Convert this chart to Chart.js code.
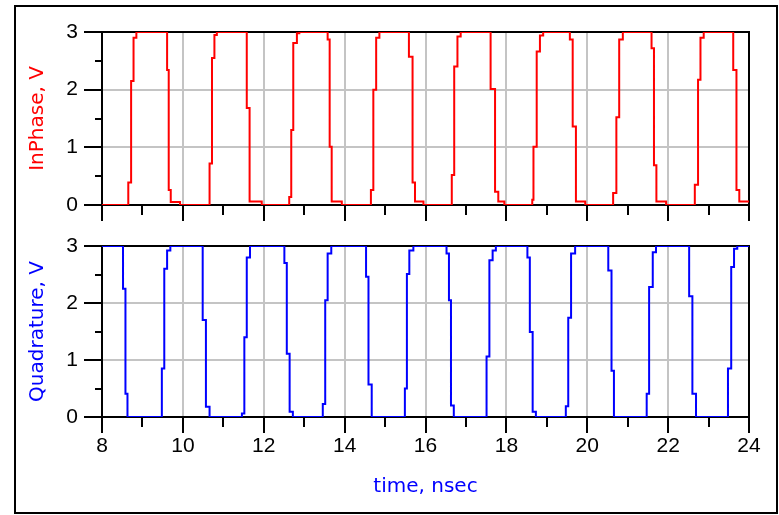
<!DOCTYPE html>
<html>
<head>
<meta charset="utf-8">
<script src="https://cdn.jsdelivr.net/npm/chart.js@4.4.1/dist/chart.umd.min.js"></script>
<style>
    html, body { margin: 0; padding: 0; background: #fff; }
    #frame {
        position: absolute; left: 14px; top: 5px;
        width: 760px; height: 505px;
        border: 2px solid #000;
    }
    canvas { position: absolute; left: 0; top: 0; }
</style>
</head>
<body>
<div id="frame"></div>
<canvas id="inphase-chart" width="779" height="515"></canvas>
<canvas id="quad-chart" width="779" height="515"></canvas>
<script>
// Tiempos (nsec) y tensiones (V); el valor cambia en cada tiempo
const inphaseTime = [
    8.00,
    8.65, 8.72, 8.78, 8.85,
    9.61, 9.65, 9.70, 9.93,
    10.66, 10.72, 10.78, 10.84,
    11.58, 11.65, 11.95,
    12.63, 12.68, 12.73, 12.82, 12.88,
    13.58, 13.63, 13.68, 13.93,
    14.65, 14.71, 14.78, 14.86,
    15.59, 15.68, 15.74, 15.95,
    16.65, 16.71, 16.79, 16.87,
    17.61, 17.72, 17.80, 17.95,
    18.64, 18.67, 18.75, 18.83, 18.91,
    19.57, 19.64, 19.72, 19.95,
    20.64, 20.72, 20.79, 20.88,
    21.59, 21.65, 21.71, 21.95,
    22.66, 22.74, 22.80, 22.88,
    23.61, 23.69, 23.76, 24.00
];
const inphaseVolt = [
    0,
    0.39, 2.15, 2.90, 3,
    2.34, 0.26, 0.05, 0,
    0.72, 2.55, 2.95, 3,
    1.68, 0.06, 0,
    0.14, 1.30, 2.81, 2.98, 3,
    2.87, 1.01, 0.06, 0,
    0.26, 2.00, 2.90, 3,
    2.57, 0.39, 0.06, 0,
    0.52, 2.40, 2.92, 3,
    2.01, 0.23, 0.06, 0,
    0.09, 1.01, 2.66, 2.94, 3,
    2.87, 1.36, 0.06, 0,
    0.21, 1.52, 2.87, 3,
    2.72, 0.69, 0.06, 0,
    0.35, 2.17, 2.90, 3,
    2.34, 0.26, 0.06, 0.06
];
const quadTime = [
    8.00,
    8.52, 8.58, 8.63,
    9.48, 9.54, 9.61, 9.69,
    10.49, 10.57, 10.66,
    11.46, 11.52, 11.58, 11.66,
    12.51, 12.57, 12.64, 12.72,
    13.46, 13.52, 13.58, 13.67,
    14.53, 14.59, 14.67,
    15.49, 15.54, 15.60, 15.70,
    16.52, 16.58, 16.63, 16.70,
    17.51, 17.58, 17.66, 17.74,
    18.52, 18.58, 18.65, 18.73,
    19.47, 19.53, 19.60, 19.70,
    20.52, 20.60, 20.66,
    21.47, 21.53, 21.62, 21.70,
    22.52, 22.60, 22.69,
    23.48, 23.56, 23.63, 23.71,
    24.00
];
const quadVolt = [
    3,
    2.25, 0.41, 0,
    0.85, 2.60, 2.92, 3,
    1.70, 0.18, 0,
    0.06, 1.40, 2.80, 3,
    2.70, 1.11, 0.09, 0,
    0.23, 2.05, 2.87, 3,
    2.46, 0.57, 0,
    0.50, 2.51, 2.92, 3,
    2.87, 2.05, 0.20, 0,
    1.06, 2.75, 2.92, 3,
    2.80, 1.49, 0.09, 0,
    0.19, 1.74, 2.87, 3,
    2.57, 0.81, 0,
    0.41, 2.28, 2.89, 3,
    2.12, 0.41, 0,
    0.85, 2.63, 2.95, 3,
    3
];

const xMin = 8, xMax = 24, xStep = 2;
const yMin = 0, yMax = 3, yStep = 1;
const xMinorTicks = [9, 11, 13, 15, 17, 19, 21, 23];
const yMinorTicks = [0.5, 1.5, 2.5];

const tickFont = { family: 'Liberation Sans, Arial, sans-serif', size: 21 };
const titleFont = { family: 'DejaVu Sans, sans-serif', size: 20 };

// Marco superior/derecho y marcas menores de los ejes
const framePlugin = {
    id: 'frame',
    beforeDatasetsDraw(chart) {
        const { ctx, chartArea: a } = chart;
        ctx.save();
        ctx.strokeStyle = '#000';
        ctx.lineWidth = 2;
        ctx.beginPath();
        ctx.moveTo(a.left, a.top);
        ctx.lineTo(a.right, a.top);
        ctx.lineTo(a.right, a.bottom);
        ctx.stroke();
        ctx.restore();
    },
    afterDraw(chart) {
        const { ctx, chartArea: a, scales } = chart;
        ctx.save();
        ctx.strokeStyle = '#000';
        ctx.lineWidth = 2;
        ctx.beginPath();
        xMinorTicks.forEach(v => {
            const px = Math.round(scales.x.getPixelForValue(v));
            ctx.moveTo(px, a.bottom);
            ctx.lineTo(px, a.bottom + 10);
        });
        yMinorTicks.forEach(v => {
            const py = Math.round(scales.y.getPixelForValue(v));
            ctx.moveTo(a.left - 7, py);
            ctx.lineTo(a.left, py);
        });
        ctx.stroke();
        ctx.restore();
    }
};

function makePoints(times, volts) {
    return times.map((t, i) => ({ x: t, y: volts[i] }));
}

function buildChart(canvasId, times, volts, color, yTitle, topPad, xAxisHeight, showX) {
    return new Chart(document.getElementById(canvasId), {
        type: 'line',
        data: {
            datasets: [{
                data: makePoints(times, volts),
                borderColor: color,
                borderWidth: 2,
                pointRadius: 0,
                stepped: true,
                tension: 0
            }]
        },
        options: {
            responsive: false,
            animation: false,
            events: [],
            layout: { padding: { top: topPad, right: 30, bottom: 0, left: 0 } },
            plugins: { legend: { display: false }, tooltip: { enabled: false } },
            scales: {
                x: {
                    type: 'linear',
                    min: xMin, max: xMax,
                    afterFit: s => { s.height = xAxisHeight; },
                    ticks: {
                        stepSize: xStep,
                        color: showX ? '#000' : 'rgba(0,0,0,0)',
                        font: tickFont,
                        padding: 1,
                        maxRotation: 0
                    },
                    grid: { color: '#c4c4c4', lineWidth: 2, tickColor: '#000', tickLength: 16, tickWidth: 2 },
                    border: { color: '#000', width: 2 },
                    title: {
                        display: showX,
                        text: 'time, nsec',
                        color: '#0000ff',
                        font: titleFont,
                        padding: { top: 0, bottom: 16 }
                    }
                },
                y: {
                    min: yMin, max: yMax,
                    afterFit: s => { s.width = 102; },
                    ticks: { stepSize: yStep, color: '#000', font: tickFont, padding: 6 },
                    grid: { color: '#c4c4c4', lineWidth: 2, tickColor: '#000', tickLength: 18, tickWidth: 2 },
                    border: { color: '#000', width: 2 },
                    title: {
                        display: true,
                        text: yTitle,
                        color: color,
                        font: titleFont,
                        padding: { top: 26, bottom: 0 }
                    }
                }
            }
        },
        plugins: [framePlugin]
    });
}

buildChart('inphase-chart', inphaseTime, inphaseVolt, '#ff0000', 'InPhase, V', 32, 310, false);
buildChart('quad-chart', quadTime, quadVolt, '#0000ff', 'Quadrature, V', 246, 98, true);
</script>
</body>
</html>
